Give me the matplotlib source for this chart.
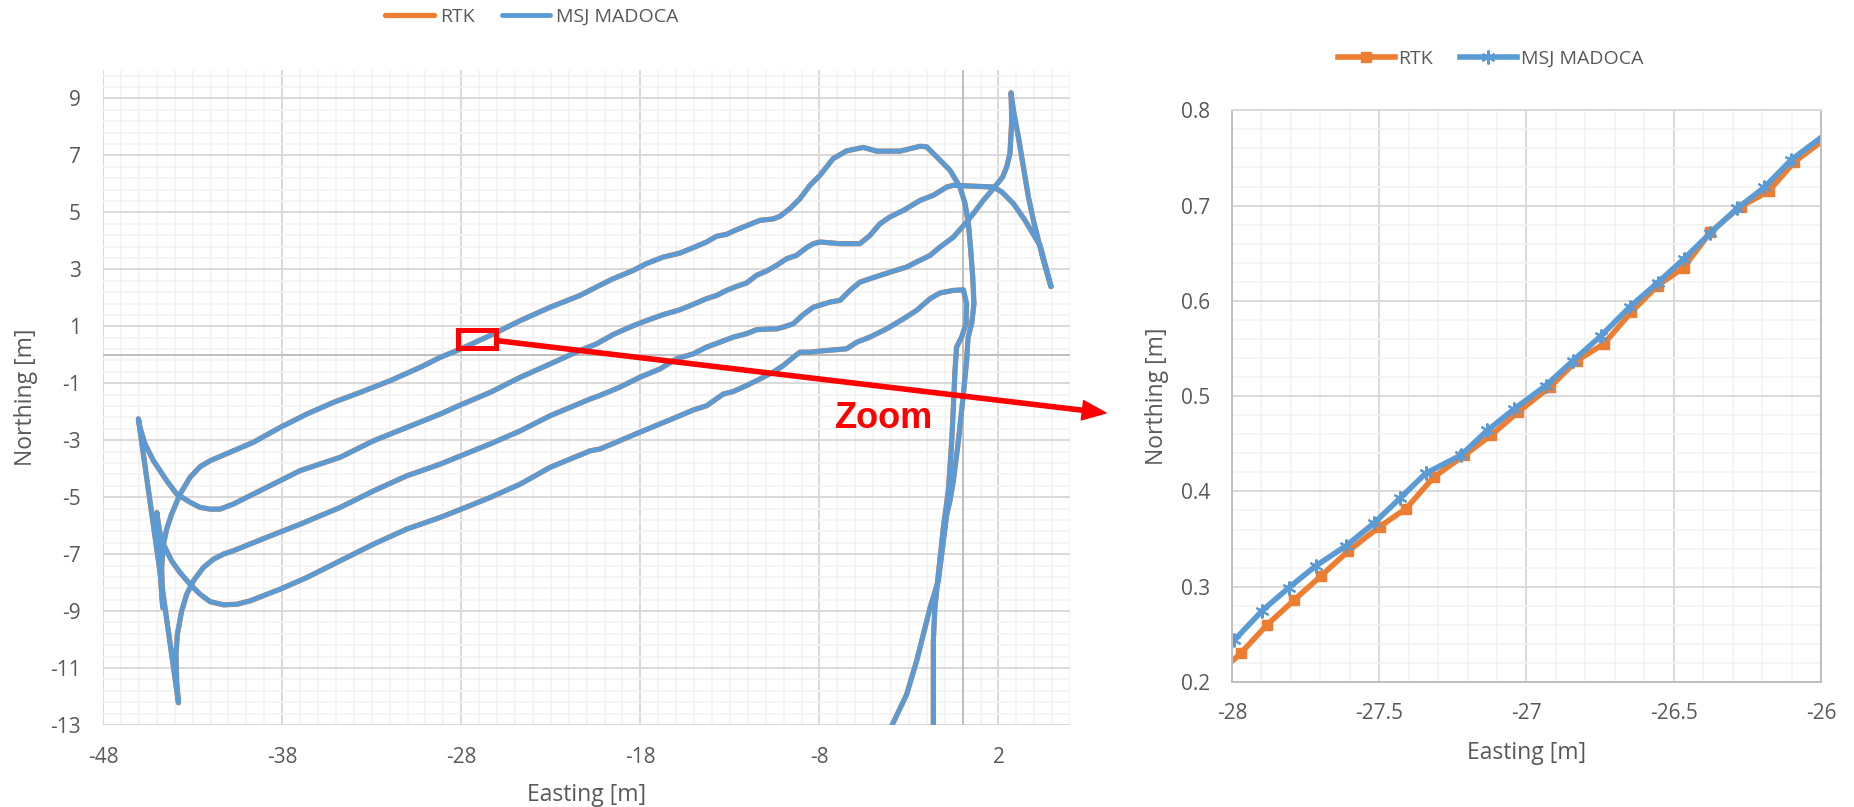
import numpy as np
import matplotlib.pyplot as plt
from matplotlib.patches import Rectangle
from matplotlib.ticker import FuncFormatter

plt.rcParams['font.family'] = ['Open Sans', 'DejaVu Sans']
plt.rcParams['axes.unicode_minus'] = False

# Full track, first pass: loop that ends in the cusp at the right (Easting, Northing in m)
rtk_loop_e = [4.93, 4.32, 4.04, 3.48, 2.83, 2.18, 1.71, 0.22, -0.52, -0.89, -1.64, -2.38, -3.31,
              -4.06, -4.62, -5.18, -5.74, -6.85, -7.97, -8.34, -8.72, -9.28, -9.84, -10.39, -10.95,
              -11.51, -12.07, -12.63, -13.19, -13.75, -14.30, -15.05, -15.79, -16.72, -17.66, -18.59,
              -19.52, -20.45, -21.38, -23.03, -24.70, -26.38, -28.0, -29.17, -31.04, -32.90, -34.76,
              -37.00, -38.49, -39.98, -40.72, -41.47, -42.02, -42.58, -43.14, -43.89, -44.45, -45.19,
              -45.66, -45.94, -46.03, -43.79, -43.89, -43.93, -43.85, -43.61, -43.33, -42.96, -42.40,
              -41.84, -41.28, -40.72, -38.86, -37.0, -34.76, -32.90, -31.04, -29.17, -28.0, -26.38,
              -24.70, -23.03, -20.79, -20.26, -19.15, -18.03, -16.91, -15.98, -15.05, -14.30, -13.56,
              -12.81, -12.07, -11.51, -10.95, -10.39, -10.02, -9.46, -8.90, -8.34, -7.41, -6.85, -6.29,
              -5.74, -5.18, -4.06, -3.13, -2.57, -1.82, -1.27, -0.52, 0.22, 0.60, 1.15, 1.71, 2.23,
              2.46, 2.64, 2.74, 2.70, 2.83, 3.11, 3.39, 3.67, 3.95, 4.23, 4.51, 4.93]
rtk_loop_n = [2.40, 3.84, 4.13, 4.72, 5.31, 5.72, 5.89, 5.93, 5.95, 5.89, 5.60, 5.42, 5.07,
              4.84, 4.60, 4.19, 3.90, 3.90, 3.96, 3.90, 3.76, 3.49, 3.37, 3.14, 2.94,
              2.79, 2.52, 2.40, 2.26, 2.08, 1.97, 1.77, 1.58, 1.41, 1.20, 0.97,
              0.71, 0.38, 0.15, -0.32, -0.79, -1.32, -1.75, -2.08, -2.55, -3.02, -3.60,
              -4.07, -4.54, -5.01, -5.24, -5.42, -5.42, -5.36, -5.18, -4.89, -4.42, -3.72,
              -3.13, -2.55, -2.25, -12.22, -11.46, -10.52, -9.81, -8.99, -8.41, -7.94, -7.47,
              -7.18, -7.00, -6.88, -6.41, -5.95, -5.36, -4.78, -4.25, -3.84, -3.54, -3.13,
              -2.67, -2.14, -1.55, -1.43, -1.14, -0.79, -0.50, -0.14, 0.03, 0.27, 0.44,
              0.62, 0.74, 0.88, 0.90, 0.91, 0.97, 1.09, 1.41, 1.67, 1.85, 1.91, 2.26,
              2.55, 2.67, 2.90, 3.08, 3.26, 3.49, 3.78, 4.13, 4.66, 4.96, 5.42, 5.83, 6.24,
              6.60, 7.07, 8.24, 9.20, 8.59, 7.65, 6.60, 5.54, 4.72, 4.02, 3.31, 2.40]

# Full track, second pass: in from the south, round the two outer lanes, back out south
rtk_pass_e = [-3.97, -3.13, -2.57, -2.20, -1.82, -1.36, -1.08, -0.89, -0.71, -0.52, -0.24, 0.04,
              0.22, 0.30, 0.50, 0.63, 0.56, 0.45, 0.32, 0.13, -0.15, -0.71, -1.45, -2.01, -2.38,
              -3.50, -4.80, -5.55, -6.48, -7.23, -7.97, -8.53, -9.09, -9.65, -10.21, -10.58, -11.32,
              -11.88, -12.63, -13.19, -13.75, -14.30, -14.86, -15.79, -16.72, -17.66, -18.40, -19.52,
              -20.45, -21.38, -23.03, -24.70, -26.38, -28.0, -29.17, -30.29, -31.97, -33.64, -35.13,
              -36.62, -38.11, -39.60, -40.72, -42.02, -42.58, -43.14, -43.70, -44.17, -44.45, -44.63,
              -44.73, -44.67, -44.78, -44.89, -45.00, -44.91, -44.78, -44.54, -44.17, -43.70, -43.14,
              -42.58, -42.02, -41.28, -40.53, -39.79, -38.11, -36.62, -35.13, -32.90, -31.04, -29.17,
              -28.0, -26.38, -24.70, -23.03, -20.79, -20.26, -19.15, -18.03, -16.91, -15.79, -15.05,
              -14.30, -13.75, -13.37, -12.81, -12.07, -11.32, -10.58, -10.02, -9.46, -9.09, -8.53,
              -7.97, -6.48, -5.92, -5.18, -4.25, -3.31, -2.57, -1.82, -1.27, -0.52, 0.04, 0.22, 0.19,
              -0.06, -0.34, -0.43, -0.52, -0.61, -0.80, -1.08, -1.36, -1.55, -1.64, -1.64]
rtk_pass_n = [-13.04, -11.93, -10.75, -9.82, -8.88, -7.94, -6.53, -5.60, -5.13, -4.42, -3.02, -1.38,
              -0.20, 0.60, 1.09, 1.79, 2.73, 3.67, 4.60, 5.31, 5.89, 6.48, 6.95, 7.30, 7.32,
              7.15, 7.15, 7.28, 7.16, 6.89, 6.30, 5.95, 5.48, 5.13, 4.86, 4.77, 4.72,
              4.58, 4.39, 4.23, 4.16, 3.96, 3.81, 3.57, 3.43, 3.20, 2.96, 2.67,
              2.38, 2.08, 1.67, 1.20, 0.68, 0.21, -0.09, -0.44, -0.91, -1.32, -1.67,
              -2.08, -2.55, -3.07, -3.37, -3.72, -3.93, -4.30, -4.89, -5.59, -6.12, -6.65,
              -7.47, -8.88, -7.94, -6.77, -5.54, -5.95, -6.41, -6.77, -7.24, -7.65, -8.06,
              -8.41, -8.67, -8.78, -8.76, -8.64, -8.23, -7.82, -7.35, -6.65, -6.12, -5.71,
              -5.42, -5.01, -4.54, -3.95, -3.37, -3.31, -3.02, -2.72, -2.43, -2.14, -1.94,
              -1.79, -1.55, -1.38, -1.29, -1.08, -0.85, -0.61, -0.38, -0.09, 0.09, 0.09,
              0.13, 0.21, 0.44, 0.62, 0.91, 1.26, 1.56, 1.97, 2.17, 2.26, 2.28, 1.79, 1.09,
              0.62, 0.27, -0.55, -1.84, -3.02, -4.78, -6.07, -7.71, -8.88, -10.05, -13.04]

# at full scale the MADOCA track sits on top of RTK, same values
madoca_loop_e, madoca_loop_n = rtk_loop_e, rtk_loop_n
madoca_pass_e, madoca_pass_n = rtk_pass_e, rtk_pass_n

# zoomed section (-28..-26 m Easting)
rtk_zoom_e = [-28.06, -27.971, -27.881, -27.789, -27.699, -27.607, -27.499, -27.409, -27.315,
              -27.211, -27.120, -27.030, -26.919, -26.830, -26.737, -26.645, -26.555, -26.466,
              -26.376, -26.273, -26.178, -26.090, -25.96]
rtk_zoom_n = [0.205, 0.230, 0.260, 0.286, 0.311, 0.337, 0.363, 0.382, 0.415,
              0.438, 0.459, 0.483, 0.510, 0.537, 0.555, 0.588, 0.616, 0.635,
              0.672, 0.699, 0.715, 0.746, 0.776]
madoca_zoom_e = [-28.08, -27.992, -27.897, -27.807, -27.715, -27.612, -27.517, -27.429, -27.342,
                 -27.223, -27.133, -27.044, -26.935, -26.843, -26.748, -26.648, -26.555, -26.466,
                 -26.376, -26.285, -26.193, -26.101, -25.98]
madoca_zoom_n = [0.215, 0.244, 0.275, 0.299, 0.322, 0.343, 0.367, 0.393, 0.419,
                 0.438, 0.464, 0.486, 0.511, 0.537, 0.563, 0.594, 0.619, 0.644,
                 0.671, 0.697, 0.719, 0.748, 0.776]

ORANGE = '#ED7D31'
BLUE = '#5B9BD5'
TXT = '#595959'
fmt = FuncFormatter(lambda v, p: '{:g}'.format(round(v, 6)))

fig = plt.figure(figsize=(18.54, 8.07), dpi=100)

# ---- left: full track ----
ax1 = fig.add_axes([0.0556, 0.1016, 0.5216, 0.8117])
ax1.set_xlim(-48, 6)
ax1.set_ylim(-13, 10)
ax1.set_xticks(np.arange(-48, 3, 10))
ax1.set_xticks(np.arange(-48, 6.5, 1), minor=True)
ax1.set_yticks(np.arange(-13, 10, 2))
ax1.set_yticks(np.arange(-13, 10.01, 0.4), minor=True)
ax1.xaxis.set_major_formatter(fmt)
ax1.yaxis.set_major_formatter(fmt)
ax1.grid(which='minor', color='#F2F2F2', lw=1.1)
ax1.grid(which='major', color='#D9D9D9', lw=1.4)
ax1.set_axisbelow(True)
ax1.axhline(0, color='#BFBFBF', lw=1.4, zorder=1)
ax1.axvline(0, color='#BFBFBF', lw=1.4, zorder=1)
for s in ax1.spines.values():
    s.set_visible(False)
ax1.tick_params(which='both', length=0, labelsize=15, labelcolor=TXT, pad=16)

l_rtk, = ax1.plot(rtk_loop_e, rtk_loop_n, color=ORANGE, lw=3.8, label='RTK', zorder=2,
                  solid_joinstyle='round', solid_capstyle='round')
ax1.plot(rtk_pass_e, rtk_pass_n, color=ORANGE, lw=3.8, zorder=2,
         solid_joinstyle='round', solid_capstyle='round')
l_mad, = ax1.plot(madoca_loop_e, madoca_loop_n, color=BLUE, lw=3.5, label='MSJ MADOCA', zorder=3,
                  solid_joinstyle='round', solid_capstyle='round')
ax1.plot(madoca_pass_e, madoca_pass_n, color=BLUE, lw=3.5, zorder=3,
         solid_joinstyle='round', solid_capstyle='round')

ax1.set_xlabel('Easting [m]', fontsize=16.5, color=TXT, va='center')
ax1.set_ylabel('Northing [m]', fontsize=16.5, color=TXT, va='center')
ax1.xaxis.set_label_coords(0.4995, -0.107)
ax1.yaxis.set_label_coords(-0.080, 0.5)

fig.legend([l_rtk, l_mad], ['RTK', 'MSJ MADOCA'], loc='center', bbox_to_anchor=(0.287, 0.979),
           ncol=2, frameon=False, fontsize=14, handlelength=2.5, handletextpad=0.3,
           columnspacing=1.4, labelcolor=TXT)

# red box + arrow to the zoomed panel
ax1.add_patch(Rectangle((-28.18, 0.24), 2.12, 0.64, fill=False, ec='red', lw=3.6, zorder=5))
ax1.annotate('', xy=(0.5965, 0.4882), xycoords='figure fraction', xytext=(-26.05, 0.5),
             textcoords='data', annotation_clip=False,
             arrowprops=dict(facecolor='red', edgecolor='red', width=3, headwidth=14,
                             headlength=17, shrink=0), zorder=6)
fig.text(0.4768, 0.482, 'Zoom', color='red', fontsize=26, fontweight='bold',
         family='Liberation Sans', ha='center', va='center')

# ---- right: zoom ----
ax2 = fig.add_axes([0.6645, 0.1549, 0.3177, 0.7084])
ax2.set_xlim(-28, -26)
ax2.set_ylim(0.2, 0.8)
ax2.set_xticks(np.arange(-28, -25.99, 0.5))
ax2.set_xticks(np.arange(-28, -25.99, 0.1), minor=True)
ax2.set_yticks(np.arange(0.2, 0.801, 0.1))
ax2.set_yticks(np.arange(0.2, 0.801, 0.02), minor=True)
ax2.xaxis.set_major_formatter(fmt)
ax2.yaxis.set_major_formatter(fmt)
ax2.grid(which='minor', color='#F2F2F2', lw=1.1)
ax2.grid(which='major', color='#D9D9D9', lw=1.4)
ax2.set_axisbelow(True)
for k in ['left', 'bottom', 'right']:
    ax2.spines[k].set_color('#BFBFBF')
    ax2.spines[k].set_linewidth(1.4)
ax2.spines['top'].set_color('#D9D9D9')
ax2.spines['top'].set_linewidth(1.4)
ax2.tick_params(which='both', length=0, labelsize=15, labelcolor=TXT, pad=16)
ax2.tick_params(axis='x', pad=15)

z_rtk, = ax2.plot(rtk_zoom_e, rtk_zoom_n, color=ORANGE, lw=4.0, marker='s', ms=7.5,
                  mfc=ORANGE, mec=ORANGE, label='RTK')
z_mad, = ax2.plot(madoca_zoom_e, madoca_zoom_n, color=BLUE, lw=4.0, marker=(6, 2, 0), ms=10,
                  mec=BLUE, mew=1.5, label='MSJ MADOCA')

ax2.set_xlabel('Easting [m]', fontsize=16.5, color=TXT, va='center')
ax2.set_ylabel('Northing [m]', fontsize=16.5, color=TXT, va='center')
ax2.xaxis.set_label_coords(0.5, -0.125)
ax2.yaxis.set_label_coords(-0.128, 0.5)

fig.legend([z_rtk, z_mad], ['RTK', 'MSJ MADOCA'], loc='center', bbox_to_anchor=(0.804, 0.927),
           ncol=2, frameon=False, fontsize=14, handlelength=2.9, handletextpad=0.2,
           columnspacing=1.4, labelcolor=TXT)

fig.savefig('out.png', dpi=100)
